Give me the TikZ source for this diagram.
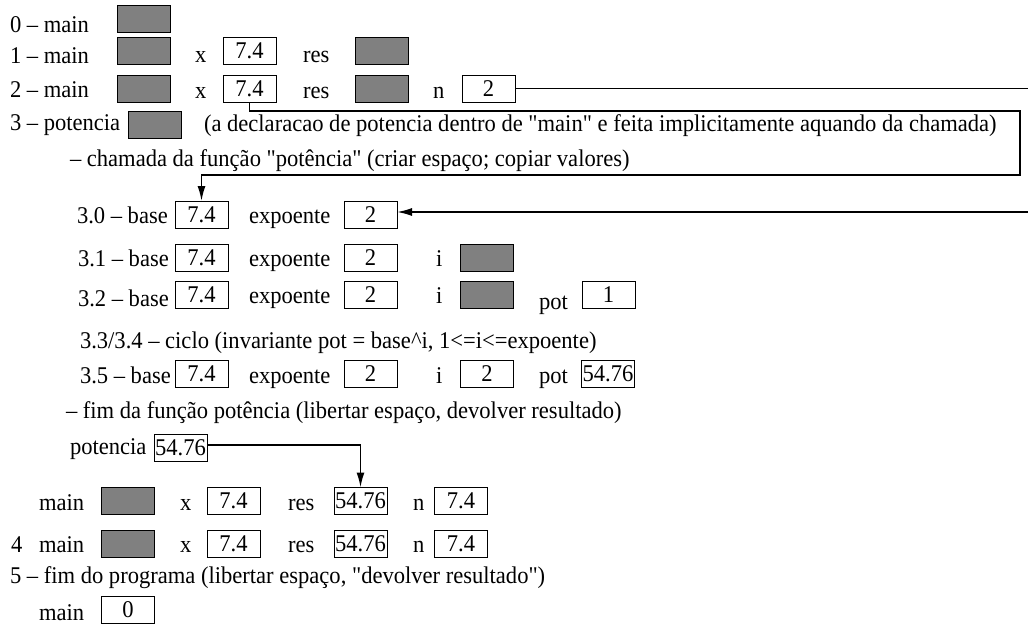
\documentclass[tikz,border=0pt]{standalone}
\usepackage{fontspec}
\setmainfont{Liberation Serif}[Ligatures=TeXOff, FakeStretch=0.94]
\usetikzlibrary{arrows.meta}
\begin{document}
\begin{tikzpicture}[x=1pt,y=-1pt,
  font=\fontsize{24}{28}\selectfont,
  lbl/.style={anchor=base west, inner sep=0pt, outer sep=0pt},
  val/.style={draw=black, line width=1pt, minimum width=53pt, minimum height=27pt, inner sep=0pt, outer sep=0pt},
  gbox/.style={val, fill=gray},
  conn/.style={line width=1.7pt},
  arr/.style={conn, -{Latex[length=15pt,width=8pt]}}]
\useasboundingbox (0,0) rectangle (1028,629);
% row 0
\node[lbl] (l0) at (10,32) {0 – main};
\node[gbox] (g0) at (143.5,18.5) {};
% row 1
\node[lbl] (l1) at (10,63) {1 – main};
\node[gbox] (g1) at (143.5,50.5) {};
\node[lbl] (x1l) at (195,62) {x};
\node[val] (x1) at (249.5,50.5) {7.4};
\node[lbl] (r1l) at (303,62) {res};
\node[gbox] (r1) at (381.5,50.5) {};
% row 2
\node[lbl] (l2) at (10,97) {2 – main};
\node[gbox] (g2) at (143.5,88.5) {};
\node[lbl] (x2l) at (195,98) {x};
\node[val] (x2) at (249.5,88.5) {7.4};
\node[lbl] (r2l) at (303,98) {res};
\node[gbox] (r2) at (381.5,88.5) {};
\node[lbl] (n2l) at (433,98) {n};
\node[val] (n2) at (488.5,88.5) {2};
% row 3
\node[lbl] (l3) at (10,130) {3 – potencia};
\node[gbox] (g3) at (154.5,125) {};
\node[lbl] (c3) at (204,131) {(a declaracao de potencia dentro de "main" e feita implicitamente aquando da chamada)};
\node[lbl] (ch) at (70,166) {– chamada da função "potência" (criar espaço; copiar valores)};
% 3.0
\node[lbl] (l30) at (77,223) {3.0 – base};
\node[val] (b30) at (201.5,214.5) {7.4};
\node[lbl] (e30l) at (249,223) {expoente};
\node[val] (e30) at (370.5,214.5) {2};
% 3.1
\node[lbl] (l31) at (78,266) {3.1 – base};
\node[val] (b31) at (201.5,257.5) {7.4};
\node[lbl] (e31l) at (249,266) {expoente};
\node[val] (e31) at (370.5,257.5) {2};
\node[lbl] (i31l) at (436,266) {i};
\node[gbox] (i31) at (487,257.5) {};
% 3.2
\node[lbl] (l32) at (78,306) {3.2 – base};
\node[val] (b32) at (201.5,295) {7.4};
\node[lbl] (e32l) at (249,303) {expoente};
\node[val] (e32) at (370.5,295) {2};
\node[lbl] (i32l) at (436,303) {i};
\node[gbox] (i32) at (487,295) {};
\node[lbl] (p32l) at (539,309) {pot};
\node[val] (p32) at (608.5,295) {1};
% 3.3/3.4
\node[lbl] (l33) at (80,348) {3.3/3.4 – ciclo (invariante pot = base\symbol{94}i, 1<=i<=expoente)};
% 3.5
\node[lbl] (l35) at (80,383) {3.5 – base};
\node[val] (b35) at (201.5,374) {7.4};
\node[lbl] (e35l) at (249,383) {expoente};
\node[val] (e35) at (370.5,374) {2};
\node[lbl] (i35l) at (436,383) {i};
\node[val] (i35) at (487,374) {2};
\node[lbl] (p35l) at (539,383) {pot};
\node[val] (p35) at (608,374) {54.76};
% fim
\node[lbl] (fim) at (66,418) {– fim da função potência (libertar espaço, devolver resultado)};
\node[lbl] (pfl) at (70,454) {potencia};
\node[val] (pf) at (180.5,448) {54.76};
% main
\node[lbl] (ml) at (39,510) {main};
\node[gbox] (mg) at (128,501) {};
\node[lbl] (mxl) at (180,510) {x};
\node[val] (mx) at (233.5,501) {7.4};
\node[lbl] (mrl) at (288,510) {res};
\node[val] (mr) at (360.5,501) {54.76};
\node[lbl] (mnl) at (413,510) {n};
\node[val] (mn) at (461,501) {7.4};
% 4
\node[lbl] (l4) at (11,552) {4};
\node[lbl] (m4l) at (39,552) {main};
\node[gbox] (m4g) at (128,543.5) {};
\node[lbl] (m4xl) at (180,552) {x};
\node[val] (m4x) at (233.5,543.5) {7.4};
\node[lbl] (m4rl) at (288,552) {res};
\node[val] (m4r) at (360.5,543.5) {54.76};
\node[lbl] (m4nl) at (413,552) {n};
\node[val] (m4n) at (461,543.5) {7.4};
% 5
\node[lbl] (l5) at (10,583) {5 – fim do programa (libertar espaço, "devolver resultado")};
\node[lbl] (m5l) at (39,620) {main};
\node[val] (m5) at (128,609.5) {0};
% connectors
\coordinate (xr1) at (1020,111);
\coordinate (xr2) at (1020,175);
\draw[arr] (x2.south) |- (xr1) -- (xr2) -| (b30.north);
\coordinate (nr1) at (1036,88.5);
\coordinate (nr2) at (1036,212);
\draw[arr] (n2.east) -- (nr1) -- (nr2) -- (e30.east |- nr2);
\draw[arr] (pf.east |- 0,445) -| (mr.north);
\end{tikzpicture}
\end{document}
